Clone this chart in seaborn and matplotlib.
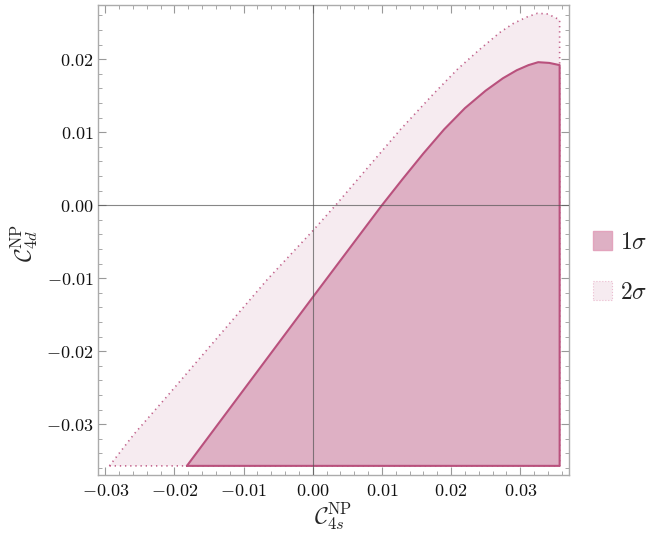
import numpy as np
import pandas as pd
import seaborn as sns
import matplotlib
matplotlib.use("Agg")
import matplotlib.pyplot as plt
from matplotlib.patches import Patch
from matplotlib.ticker import FixedLocator, MultipleLocator, FixedFormatter

# ---------------- data ----------------
box_min = -0.0357   # lower / left bound of the scanned region
box_max = 0.0357    # right bound of the scanned region

# 1 sigma upper boundary
s1_x = [-0.0182, 0.0000, 0.0100, 0.0130, 0.0160, 0.0190, 0.0220, 0.0250,
        0.0275, 0.0295, 0.0312, 0.0326, 0.0342, 0.0357]
s1_y = [-0.0357, -0.0126, 0.0000, 0.0036, 0.0071, 0.0104, 0.0133, 0.0157,
        0.0174, 0.0185, 0.0192, 0.0196, 0.0195, 0.0192]

# 2 sigma upper boundary
s2_x = [-0.0294, -0.0258, -0.0210, -0.0162, -0.0114, -0.0066, 0.0000, 0.0033,
        0.0079, 0.0127, 0.0175, 0.0210, 0.0242, 0.0271, 0.0290, 0.0310,
        0.0325, 0.0340, 0.0357]
s2_y = [-0.0357, -0.0313, -0.0261, -0.0208, -0.0155, -0.0102, -0.0035, 0.0000,
        0.0051, 0.0104, 0.0153, 0.0187, 0.0214, 0.0237, 0.0249, 0.0258,
        0.0263, 0.0262, 0.0254]

x_ticks = [-0.03, -0.02, -0.01, 0.00, 0.01, 0.02, 0.03]
x_tick_labels = ["$-0.03$", "$-0.02$", "$-0.01$", "$0.00$", "$0.01$", "$0.02$", "$0.03$"]
y_ticks = [-0.03, -0.02, -0.01, 0.00, 0.01, 0.02]
y_tick_labels = ["$-0.03$", "$-0.02$", "$-0.01$", "$0.00$", "$0.01$", "$0.02$"]
legend_labels = [r"$1\sigma$", r"$2\sigma$"]

# ---------------- style ----------------
sns.set_theme(style="ticks")
plt.rcParams["mathtext.fontset"] = "cm"
plt.rcParams["font.family"] = ["DejaVu Serif"]

c1_fill = "#DEB0C4"
c1_edge = "#B9517D"
c2_fill = "#F6EBF0"
c2_edge = "#C2638C"
frame_c = "#ABABAB"

fig = plt.figure(figsize=(6.46, 5.38), dpi=100)
ax = fig.add_axes([0.1512, 0.1171, 0.7301, 0.8745])

# 2 sigma region
poly2_x = s2_x + [box_max, box_max, s2_x[0]]
poly2_y = s2_y + [s1_y[-1], box_min, box_min]
ax.fill(poly2_x, poly2_y, facecolor=c2_fill, edgecolor="none", zorder=1)
df2 = pd.DataFrame({"x": poly2_x, "y": poly2_y})
sns.lineplot(data=df2, x="x", y="y", sort=False, estimator=None, ax=ax,
             color=c2_edge, lw=1.2, linestyle=(0, (0.8, 2.3)), zorder=2)

# 1 sigma region
poly1_x = s1_x + [box_max, s1_x[0]]
poly1_y = s1_y + [box_min, box_min]
ax.fill(poly1_x, poly1_y, facecolor=c1_fill, edgecolor="none", zorder=3)
df1 = pd.DataFrame({"x": poly1_x, "y": poly1_y})
sns.lineplot(data=df1, x="x", y="y", sort=False, estimator=None, ax=ax,
             color=c1_edge, lw=1.5, zorder=4)

# zero lines
ax.axhline(0, color="#555555", lw=0.8, alpha=0.7, zorder=5)
ax.axvline(0, color="#555555", lw=0.8, alpha=0.7, zorder=5)

ax.set_xlim(-0.0311, 0.0371)
ax.set_ylim(-0.03695, 0.0275)

ax.xaxis.set_major_locator(FixedLocator(x_ticks))
ax.xaxis.set_major_formatter(FixedFormatter(x_tick_labels))
ax.yaxis.set_major_locator(FixedLocator(y_ticks))
ax.yaxis.set_major_formatter(FixedFormatter(y_tick_labels))
ax.xaxis.set_minor_locator(MultipleLocator(0.002))
ax.yaxis.set_minor_locator(MultipleLocator(0.002))
ax.tick_params(which="both", direction="in", top=True, right=True,
               color="#999999", labelcolor="#111111", labelsize=13)
ax.tick_params(which="major", length=5.5, width=0.8)
ax.tick_params(which="minor", length=3, width=0.6)
ax.tick_params(axis="x", which="major", pad=5)
ax.tick_params(axis="y", which="major", pad=3)
for sp in ax.spines.values():
    sp.set_color(frame_c)
    sp.set_linewidth(1.0)

ax.set_xlabel("")
ax.set_ylabel("")
fig.text(333 / 646, 1 - 516 / 538, r"$\mathcal{C}_{4s}^{\mathrm{NP}}$",
         ha="center", va="center", fontsize=17)
fig.text(24 / 646, 1 - 243 / 538, r"$\mathcal{C}_{4d}^{\mathrm{NP}}$",
         ha="center", va="center", fontsize=17, rotation=90)

handles = [Patch(facecolor=c1_fill, edgecolor="#E3A4BD", lw=1.0),
           Patch(facecolor=c2_fill, edgecolor="#EBBCCF", lw=0.8, linestyle=":")]
fig.legend(handles, legend_labels, loc="center left",
           bbox_to_anchor=(0.885, 0.503), frameon=False, fontsize=17,
           handlelength=0.8, handleheight=0.85, labelspacing=1.15,
           handletextpad=0.35, borderaxespad=0.5, borderpad=0.4)

fig.savefig("out.png", dpi=100)
